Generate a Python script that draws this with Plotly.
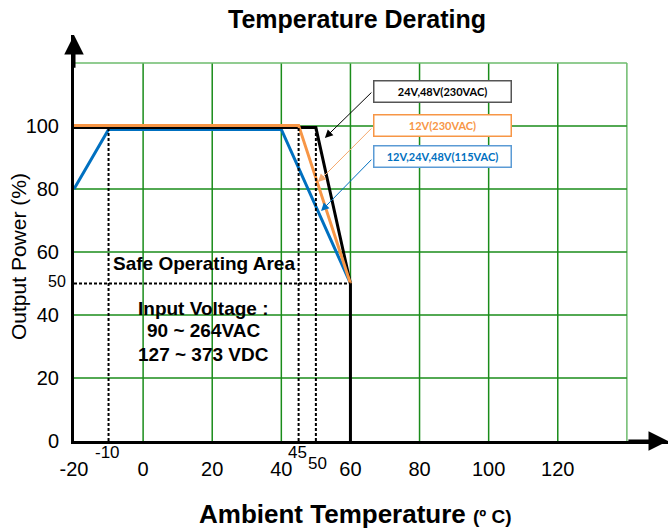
import plotly.graph_objects as go

# ---- data ----
black_x = [-20, 50, 60, 60]
black_y = [99.5, 99.5, 50, 0]
orange_x = [-20, 45, 60]
orange_y = [100.2, 100.2, 50]
blue_x = [-20, -10, 40, 60]
blue_y = [80, 98.9, 98.9, 50]

x_ticks = [-20, 0, 20, 40, 60, 80, 100, 120]
y_ticks = [0, 20, 40, 60, 80, 100]
grid_x = [0, 20, 40, 60, 80, 100, 120, 140]
grid_y = [20, 40, 60, 80, 100, 120]
dotted_v = [-10, 45, 50]
dotted_h = 50

legend_labels = ["24V,48V(230VAC)", "12V(230VAC)", "12V,24V,48V(115VAC)"]
legend_y = [111.1, 100.3, 90.2]
tip_x = [52.6, 50.6, 51.5]
tip_y = [96.2, 82.2, 73.0]
tail_y = [111.1, 99.7, 89.8]

BLACK = "#000000"
ORANGE = "#F79646"
BLUE = "#0070C0"
GREEN = "#1A8C1A"
LIGHT_GREEN = "#6DBB6D"
FONT = "Liberation Sans"

Y_MAX = 128.9

fig = go.Figure()

shapes = []
for gx in grid_x:
    shapes.append(dict(type="line", xref="x", yref="y", x0=gx, x1=gx, y0=0, y1=120,
                       line=dict(color=LIGHT_GREEN if gx == grid_x[-1] else GREEN, width=1.5),
                       layer="below"))
for gy in grid_y:
    shapes.append(dict(type="line", xref="x", yref="y", x0=-20, x1=140, y0=gy, y1=gy,
                       line=dict(color=LIGHT_GREEN if gy == grid_y[-1] else GREEN, width=1.5),
                       layer="below"))
for dv in dotted_v:
    shapes.append(dict(type="line", xref="x", yref="y", x0=dv, x1=dv, y0=0, y1=100,
                       line=dict(color=BLACK, width=2, dash="3px,2px")))
shapes.append(dict(type="line", xref="x", yref="y", x0=-20, x1=60, y0=dotted_h, y1=dotted_h,
                   line=dict(color=BLACK, width=2, dash="3px,2px")))

fig.add_trace(go.Scatter(x=blue_x, y=blue_y, mode="lines", line=dict(color=BLUE, width=3),
                         cliponaxis=False, hoverinfo="skip"))
fig.add_trace(go.Scatter(x=black_x, y=black_y, mode="lines", line=dict(color=BLACK, width=3),
                         cliponaxis=False, hoverinfo="skip"))
fig.add_trace(go.Scatter(x=orange_x, y=orange_y, mode="lines", line=dict(color=ORANGE, width=3),
                         cliponaxis=False, hoverinfo="skip"))

ann = []
# axis arrows
ann.append(dict(x=151.9, y=0, ax=140, ay=0, xref="x", yref="y", axref="x", ayref="y",
                text="", showarrow=True, arrowhead=2, arrowsize=1.3, arrowwidth=3,
                arrowcolor=BLACK))
ann.append(dict(x=-20, y=Y_MAX, ax=-20, ay=118, xref="x", yref="y", axref="x", ayref="y",
                text="", showarrow=True, arrowhead=2, arrowsize=1.3, arrowwidth=3,
                arrowcolor=BLACK))

box_border = ["#555555", ORANGE, "#5B9BD5"]
box_text = [BLACK, ORANGE, BLUE]
arrow_col = [BLACK, "#F5A96E", BLUE]
for lab, ly, tx, ty, tly, bc, tc, ac in zip(legend_labels, legend_y, tip_x, tip_y, tail_y,
                                             box_border, box_text, arrow_col):
    ann.append(dict(x=86.5, y=ly, xref="x", yref="y", text="<b>%s</b>" % lab, showarrow=False,
                    font=dict(family="Lato", size=11, color=tc), bgcolor="white",
                    bordercolor=bc, borderwidth=1.5, borderpad=1, width=134, height=18))
    ann.append(dict(x=tx, y=ty, ax=66.5, ay=tly, xref="x", yref="y", axref="x", ayref="y",
                    text="", showarrow=True, arrowhead=2, arrowsize=1.6, arrowwidth=1,
                    arrowcolor=ac))

# inner texts
ann.append(dict(x=17.6, y=56.5, xref="x", yref="y", text="<b>Safe Operating Area</b>",
                showarrow=False, font=dict(family=FONT, size=19, color=BLACK)))
for t, yy in zip(["Input Voltage :", "90 ~ 264VAC", "127 ~ 373 VDC"], [42.2, 35.0, 27.6]):
    ann.append(dict(x=17.6, y=yy, xref="x", yref="y", text="<b>%s</b>" % t,
                    showarrow=False, font=dict(family=FONT, size=19, color=BLACK)))

# extra tick labels (below the x axis, in paper y)
ann.append(dict(x=-10.3, y=-3.7 / Y_MAX, xref="x", yref="paper", text="-10", showarrow=False,
                yanchor="middle", font=dict(family=FONT, size=17, color=BLACK)))
ann.append(dict(x=44.8, y=-3.5 / Y_MAX, xref="x", yref="paper", text="45", showarrow=False,
                yanchor="middle", font=dict(family=FONT, size=17, color=BLACK)))
ann.append(dict(x=50.6, y=-7.2 / Y_MAX, xref="x", yref="paper", text="50", showarrow=False,
                yanchor="middle", font=dict(family=FONT, size=17, color=BLACK)))
ann.append(dict(x=-20, y=50.5, xref="x", yref="y", text="50", showarrow=False,
                xanchor="right", xshift=-6, font=dict(family=FONT, size=16, color=BLACK)))

# axis titles
ann.append(dict(x=(355 - 74) / 594, y=(441 - 514) / 406, xref="paper", yref="paper",
                text="<b>Ambient Temperature</b> <b><span style='font-size:19px'>(º C)</span></b>",
                showarrow=False, xanchor="center", yanchor="middle",
                font=dict(family=FONT, size=26, color=BLACK)))
ann.append(dict(x=(18 - 74) / 594, y=(441 - 257) / 406, xref="paper", yref="paper",
                text="Output Power (%)", textangle=-90, showarrow=False,
                xanchor="center", yanchor="middle",
                font=dict(family=FONT, size=21, color=BLACK)))

fig.update_layout(
    width=670, height=529,
    margin=dict(l=74, r=2, t=35, b=88),
    paper_bgcolor="white", plot_bgcolor="white",
    showlegend=False,
    title=dict(text="<b>Temperature Derating</b>", x=357 / 670, xref="container",
               xanchor="center", y=1 - 19 / 529, yanchor="middle",
               font=dict(family=FONT, size=25, color=BLACK)),
    xaxis=dict(range=[-20, 151.9], tickvals=x_ticks, ticktext=[str(v) for v in x_ticks],
               showgrid=False, zeroline=False, showline=True, linecolor=BLACK, linewidth=3,
               ticks="", ticklabelstandoff=8, automargin=False,
               tickfont=dict(family=FONT, size=20, color=BLACK)),
    yaxis=dict(range=[0, Y_MAX], tickvals=y_ticks, ticktext=[str(v) for v in y_ticks],
               showgrid=False, zeroline=False, showline=True, linecolor=BLACK, linewidth=3,
               ticks="", ticklabelstandoff=8, automargin=False,
               tickfont=dict(family=FONT, size=20, color=BLACK)),
    shapes=shapes,
    annotations=ann,
)

fig.write_html("out.html", config={"displayModeBar": False},
               post_script="document.body.style.margin='0';")
